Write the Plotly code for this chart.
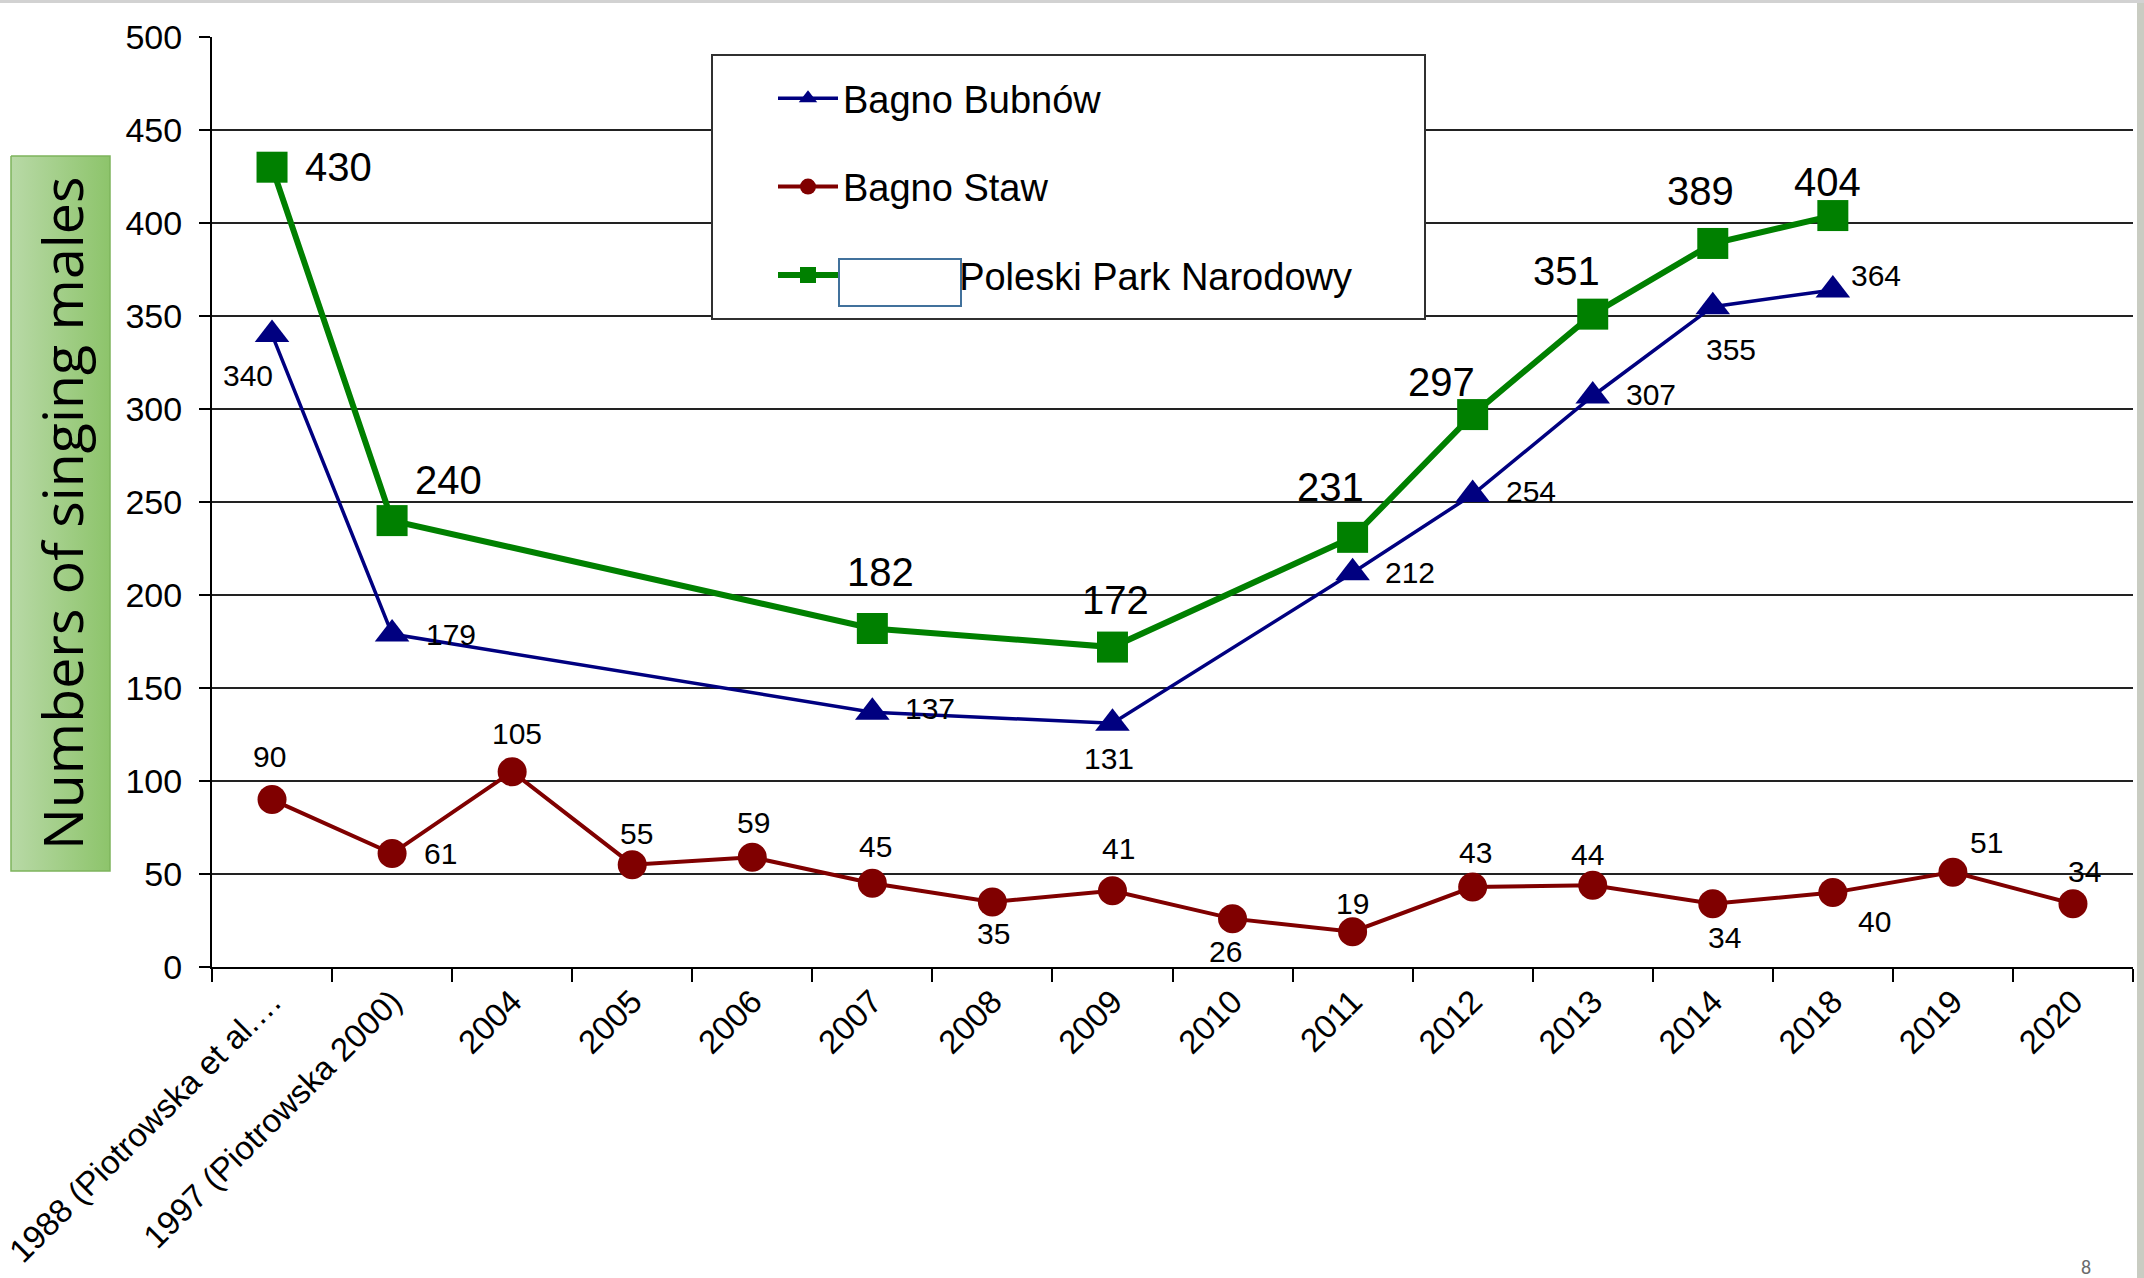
import plotly.graph_objects as go

# ---------------- data ----------------
categories = ["1988 (Piotrowska et al.…", "1997 (Piotrowska 2000)", "2004", "2005", "2006",
              "2007", "2008", "2009", "2010", "2011", "2012", "2013", "2014", "2018",
              "2019", "2020"]
bagno_bubnow = [340, 179, None, None, None, 137, None, 131, None, 212, 254, 307, 355, 364, None, None]
bagno_staw = [90, 61, 105, 55, 59, 45, 35, 41, 26, 19, 43, 44, 34, 40, 51, 34]
poleski_pn = [430, 240, None, None, None, 182, None, 172, None, 231, 297, 351, 389, 404, None, None]
y_ticks = [0, 50, 100, 150, 200, 250, 300, 350, 400, 450, 500]

# label pixel offsets (style only)
bubnow_off = [(-24, 41), (59, 0), None, None, None, (58, -4), None, (-3, 35), None,
              (57, 0), (58, -3), (58, -1), (18, 43), (43, -14), None, None]
staw_off = [(-3, -43), (48, 0), (5, -38), (4, -31), (1, -35), (3, -37), (1, 32), (6, -42),
            (-7, 33), (0, -28), (3, -35), (-5, -31), (12, 34), (42, 29), (34, -30), (12, -32)]
ppn_off = [(66, 0), (56, -41), None, None, None, (8, -56), None, (3, -47), None,
           (-22, -50), (-31, -33), (-26, -43), (-12, -52), (-5, -34), None, None]

W, H = 2144, 1278
PX_L, PX_R, PX_T, PX_B = 212, 2133, 37, 967
FONT = "Arial, Liberation Sans, sans-serif"
BLUE, RED, GREEN = "#000080", "#800000", "#008000"

fig = go.Figure()

fig.add_trace(go.Scatter(
    x=categories, y=bagno_bubnow, name="Bagno Bubnów", mode="lines+markers",
    connectgaps=True, legendgroup="a",
    line=dict(color=BLUE, width=3.5),
    marker=dict(symbol="triangle-up", size=30, color=BLUE)))
fig.add_trace(go.Scatter(
    x=categories, y=bagno_staw, name="Bagno Staw", mode="lines+markers",
    connectgaps=True, legendgroup="b",
    line=dict(color=RED, width=4),
    marker=dict(symbol="circle", size=29, color=RED)))
fig.add_trace(go.Scatter(
    x=categories, y=poleski_pn, name="\u00a0" * 11 + "Poleski Park Narodowy", mode="lines+markers",
    connectgaps=True, legendgroup="c",
    line=dict(color=GREEN, width=6),
    marker=dict(symbol="square", size=31, color=GREEN)))

# y-axis title box (gradient) on a helper axis in the left strip
fig.add_trace(go.Scatter(
    x=[11, 110, 110, 11, 11], y=[156, 156, 871, 871, 156],
    xaxis="x2", yaxis="y2", mode="lines", fill="toself",
    fillgradient=dict(type="horizontal", colorscale=[[0, "#b8d9a6"], [1, "#8dc46b"]]),
    line=dict(color="#7db45c", width=1.5), showlegend=False, hoverinfo="skip"))

annotations = []
def add_labels(vals, offs, size):
    for i, (v, o) in enumerate(zip(vals, offs)):
        if v is None or o is None:
            continue
        annotations.append(dict(x=i, y=v, xref="x", yref="y", text=str(v), showarrow=False,
                                xanchor="center", yanchor="middle", xshift=o[0], yshift=-o[1],
                                font=dict(family=FONT, size=size, color="black")))
add_labels(bagno_bubnow, bubnow_off, 30)
add_labels(bagno_staw, staw_off, 30)
add_labels(poleski_pn, ppn_off, 40)

annotations.append(dict(x=61, y=514, xref="x2", yref="y2", text="Numbers of singing males",
                        textangle=-90, showarrow=False, xanchor="center", yanchor="middle",
                        font=dict(family="Open Sans, Noto Sans, sans-serif", size=55.5, color="black")))
annotations.append(dict(x=2093 / W, y=1 - 1267 / H, xref="paper", yref="paper", text="8",
                        showarrow=False, yanchor="middle",
                        font=dict(family="Carlito, Open Sans, sans-serif", size=20, color="#6b6b6b")))

shapes = [
    # legend frame
    dict(type="rect", xref="paper", yref="paper", x0=712 / W, x1=1425 / W, y0=1 - 319 / H, y1=1 - 55 / H,
         fillcolor="white", line=dict(color="#303030", width=2), layer="above"),
    # odd empty box in legend
    dict(type="rect", xref="paper", yref="paper", x0=839 / W, x1=961 / W, y0=1 - 306 / H, y1=1 - 259 / H,
         fillcolor="white", line=dict(color="#41719c", width=2), layer="above"),
    # slide background edges
    dict(type="rect", xref="paper", yref="paper", x0=2137 / W, x1=1, y0=0, y1=1,
         fillcolor="#c9ccc2", line=dict(width=0), layer="below"),
    dict(type="rect", xref="paper", yref="paper", x0=0, x1=1, y0=1 - 3 / H, y1=1,
         fillcolor="#d2d2d2", line=dict(width=0), layer="below"),
]

fig.update_layout(
    width=W, height=H,
    margin=dict(l=0, r=0, t=0, b=0),
    paper_bgcolor="white", plot_bgcolor="white",
    font=dict(family=FONT, color="black"),
    showlegend=True,
    legend=dict(x=773 / W, y=1 - 67 / H, xanchor="left", yanchor="top",
                bgcolor="rgba(0,0,0,0)", borderwidth=0,
                font=dict(family=FONT, size=38, color="black"),
                itemwidth=60, traceorder="grouped", tracegroupgap=36),
    xaxis=dict(domain=[PX_L / W, PX_R / W], type="category", categoryorder="array",
               categoryarray=categories, range=[-0.5, len(categories) - 0.5],
               tickson="boundaries", ticks="outside", ticklen=13, tickwidth=2, tickcolor="black",
               showline=True, linecolor="black", linewidth=2, showgrid=False,
               tickangle=-45, tickfont=dict(family=FONT, size=33, color="black"),
               automargin=False, fixedrange=True),
    yaxis=dict(domain=[1 - PX_B / H, 1 - PX_T / H], range=[0, 500], tickvals=y_ticks,
               ticks="outside", ticklen=11, tickwidth=2, tickcolor="black",
               showline=True, linecolor="black", linewidth=2,
               showgrid=True, gridcolor="#222222", gridwidth=2, zeroline=False,
               tickfont=dict(family=FONT, size=34, color="black"), ticklabelstandoff=10,
               automargin=False, fixedrange=True),
    xaxis2=dict(domain=[0, 128 / W], range=[0, 128], visible=False, fixedrange=True, anchor="y2"),
    yaxis2=dict(domain=[0, 1], range=[H, 0], visible=False, fixedrange=True, anchor="x2"),
    annotations=annotations,
    shapes=shapes,
)

fig.write_html("out.html", config={"displayModeBar": False},
               post_script="document.body.style.margin='0';document.body.style.overflow='hidden';")
